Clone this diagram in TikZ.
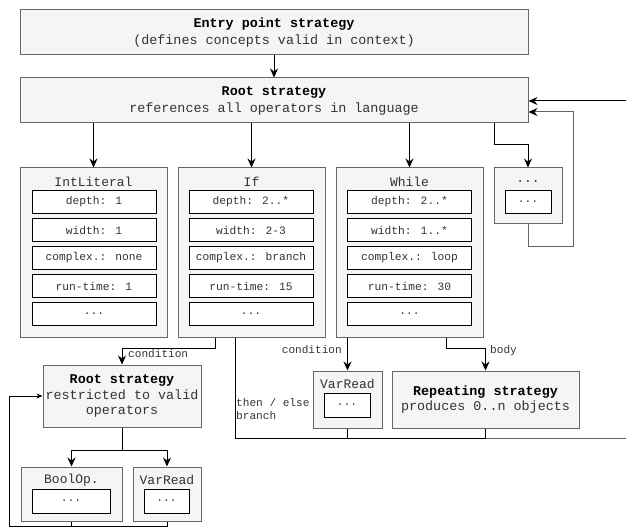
\documentclass[tikz,border=0pt]{standalone}
\usepackage{fontspec}
\setmainfont{Liberation Mono}
\usetikzlibrary{arrows.meta}
\definecolor{boxfill}{HTML}{F5F5F5}
\definecolor{boxline}{HTML}{666666}
\definecolor{txt}{HTML}{333333}
\definecolor{gline}{HTML}{666666}
\begin{document}
\begin{tikzpicture}[x=1pt,y=-1pt,
  outerbox/.style={draw=boxline, fill=boxfill, line width=1pt, inner sep=0pt, text=txt},
  inbox/.style={draw=black, fill=white, line width=1pt, minimum width=124pt, minimum height=23pt, inner sep=0pt, font=\fontsize{11.25}{13}\selectfont, text=txt},
  smallin/.style={inbox, minimum width=46pt, minimum height=23pt},
  titletext/.style={font=\fontsize{13}{15}\selectfont, text=txt, inner sep=0pt},
  bigtext/.style={font=\fontsize{13.4}{17}\selectfont, align=center},
  conn/.style={line width=1pt, draw=black},
  conng/.style={line width=1pt, draw=gline},
  arr/.style={conn, -{Stealth[length=9pt,width=8pt,inset=3pt]}},
  arrg/.style={conng, -{Stealth[length=9pt,width=8pt,inset=3pt,color=black]}},
  smallarr/.style={conn, -{Stealth[length=6pt,width=5pt,inset=2pt]}},
  lbl/.style={font=\fontsize{11.1}{13}\selectfont, text=txt, inner sep=0pt}
]
\useasboundingbox (0,0) rectangle (626,529);

% top boxes
\node[outerbox, bigtext, minimum width=508pt, minimum height=45pt] (entry) at (274,32.5)
  {{\color{black}\bfseries Entry point strategy}\\(defines concepts valid in context)};
\node[outerbox, bigtext, minimum width=508pt, minimum height=45pt] (root) at (274,100.5)
  {{\color{black}\bfseries Root strategy}\\references all operators in language};

% IntLiteral column
\node[outerbox, minimum width=147pt, minimum height=169pt] (intlit) at (93.5,252.5) {};
\node[titletext] (intlitT) at (93.5,182) {IntLiteral};
\node[inbox] (il1) at (94,202) {depth: 1};
\node[inbox] (il2) at (94,230) {width: 1};
\node[inbox] (il3) at (94,258) {complex.: none};
\node[inbox] (il4) at (94,286) {run-time: 1};
\node[inbox] (il5) at (94,314) {...};

% If column
\node[outerbox, minimum width=147pt, minimum height=169pt] (ifbox) at (251.5,252.5) {};
\node[titletext] (ifT) at (251.5,182) {If};
\node[inbox] (if1) at (251,202) {depth: 2..*};
\node[inbox] (if2) at (251,230) {width: 2-3};
\node[inbox] (if3) at (251,258) {complex.: branch};
\node[inbox] (if4) at (251,286) {run-time: 15};
\node[inbox] (if5) at (251,314) {...};

% While column
\node[outerbox, minimum width=147pt, minimum height=169pt] (whilebox) at (409.5,252.5) {};
\node[titletext] (whileT) at (409.5,182) {While};
\node[inbox] (wh1) at (409.5,202) {depth: 2..*};
\node[inbox] (wh2) at (409.5,230) {width: 1..*};
\node[inbox] (wh3) at (409.5,258) {complex.: loop};
\node[inbox] (wh4) at (409.5,286) {run-time: 30};
\node[inbox] (wh5) at (409.5,314) {...};

% dots box
\node[outerbox, minimum width=68pt, minimum height=56pt] (dots) at (528,196) {};
\node[titletext] (dotsT) at (528,182) {...};
\node[smallin] (dotsI) at (528,202) {...};

% lower root
\node[outerbox, font=\fontsize{13.4}{15.5}\selectfont, align=center, minimum width=158pt, minimum height=62pt] (lowroot) at (122,396)
  {{\color{black}\bfseries Root strategy}\\restricted to valid\\operators};

% BoolOp and VarRead (bottom left)
\node[outerbox, minimum width=101pt, minimum height=54pt] (boolop) at (71.5,494) {};
\node[titletext] (boolopT) at (71.5,480) {BoolOp.};
\node[smallin, minimum width=78pt, minimum height=24pt] (boolopI) at (71,501) {...};
\node[outerbox, minimum width=68pt, minimum height=54pt] (varread2) at (167,494) {};
\node[titletext] (varread2T) at (167,480) {VarRead};
\node[smallin, minimum width=45pt, minimum height=24pt] (varread2I) at (166.5,501) {...};

% VarRead (middle) and Repeating
\node[outerbox, minimum width=69pt, minimum height=57pt] (varread1) at (347.5,399.5) {};
\node[titletext] (varread1T) at (347.5,384) {VarRead};
\node[smallin, minimum width=46pt, minimum height=24pt] (varread1I) at (347,405) {...};
\node[outerbox, font=\fontsize{13.4}{15}\selectfont, align=center, minimum width=187pt, minimum height=57pt] (repeat) at (485.5,399.5)
  {{\color{black}\bfseries Repeating strategy}\\produces 0..n objects};

% coordinates
\coordinate (rd) at (494,145);
\coordinate (inR) at (626,101);
\coordinate (lp1) at (573,247);
\coordinate (lp2) at (573,112);
\coordinate (c1) at (215,348);
\coordinate (te) at (235,438);
\coordinate (join) at (486,438);
\coordinate (exitB) at (626,438);
\coordinate (b1) at (446,348);
\coordinate (lr) at (122,450);
\coordinate (bl) at (9,526);

% connectors
\draw[arr] (entry) -- (root);
\draw[arr] (root.south -| intlit.north) -- (intlit.north);
\draw[arr] (root.south -| ifbox.north) -- (ifbox.north);
\draw[arr] (root.south -| whilebox.north) -- (whilebox.north);
\draw[arr] (root.south -| rd) -- (rd) -| (dots.north);
\draw[arr] (inR) -- (inR -| root.east);
\draw[arrg] (dots.south) |- (lp1) -- (lp2) -- (lp2 -| root.east);

\draw[arr] (ifbox.south -| c1) -- (c1) -| (lowroot.north);
\node[lbl, anchor=west] (lcond1) at (128,354) {condition};

\draw[conn] (ifbox.south -| te) -- (te) -- (join);
\draw[conng] (join) -- (exitB);
\node[lbl, anchor=west, align=left, font=\fontsize{11.1}{13}\selectfont] (ltheelse) at (236,409.5) {then / else\\branch};

\draw[arr] (whilebox.south -| varread1.north) -- (varread1.north);
\node[lbl, anchor=east] (lcond2) at (342,350) {condition};
\draw[arr] (whilebox.south -| b1) -- (b1) -| (repeat.north);
\node[lbl, anchor=west] (lbody) at (490,351) {body};

\draw[conn] (varread1.south) -- (varread1.south |- te);
\draw[conn] (repeat.south) -- (repeat.south |- te);

\draw[arr] (lowroot.south) -- (lr) -| (boolop.north);
\draw[arr] (lr) -| (varread2.north);

\draw[conn] (boolop.south) -- (boolop.south |- bl);
\draw[smallarr] (varread2.south) |- (bl) |- (lowroot.west);
\end{tikzpicture}
\end{document}
